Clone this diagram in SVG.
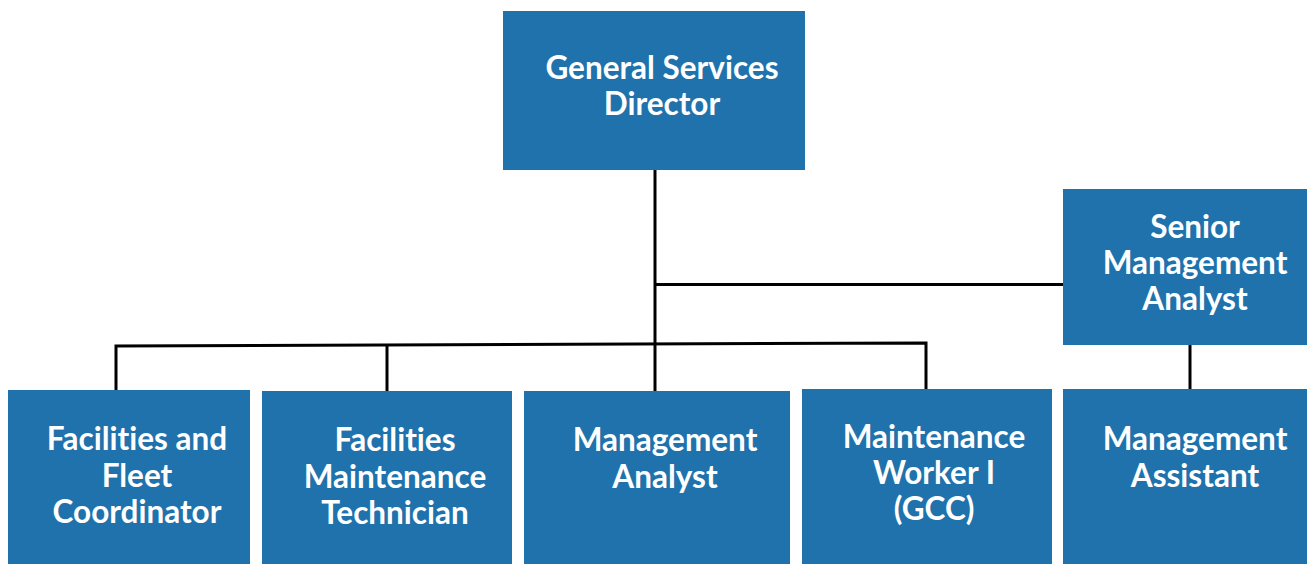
<svg xmlns="http://www.w3.org/2000/svg" width="1307" height="564" viewBox="0 0 1307 564">
  <style>
    .box { fill: #1F72AC; }
    .lbl { font-family: Lato, "Open Sans", "Liberation Sans", sans-serif; font-weight: bold; font-size: 31.5px; fill: #ffffff; text-anchor: middle; font-variant-ligatures: none; }
    .wire { fill: none; stroke: #000000; stroke-width: 3; stroke-linejoin: miter; }
  </style>
  <rect width="1307" height="564" fill="#ffffff"/>

  <!-- reporting lines -->
  <g id="connectors">
    <path class="wire" d="M655 170 V391"/>
    <path class="wire" d="M655 284.5 H1063"/>
    <path class="wire" d="M116 390 V346 L926 343 V389"/>
    <path class="wire" d="M387 346 V391"/>
    <path class="wire" d="M1190 340 V389"/>
  </g>

  <g id="general-services-director">
    <rect class="box" x="503" y="11" width="302" height="159"/>
    <text class="lbl" x="662" y="79">General Services</text>
    <text class="lbl" x="662" y="115">Director</text>
  </g>

  <g id="senior-management-analyst">
    <rect class="box" x="1063" y="189" width="244" height="156"/>
    <text class="lbl" x="1195" y="238">Senior</text>
    <text class="lbl" x="1195" y="274">Management</text>
    <text class="lbl" x="1195" y="310">Analyst</text>
  </g>

  <g id="facilities-fleet-coordinator">
    <rect class="box" x="8" y="390" width="242" height="174"/>
    <text class="lbl" x="137" y="450">Facilities and</text>
    <text class="lbl" x="137" y="487">Fleet</text>
    <text class="lbl" x="137" y="523">Coordinator</text>
  </g>

  <g id="facilities-maintenance-technician">
    <rect class="box" x="262" y="391" width="250" height="173"/>
    <text class="lbl" x="395" y="451">Facilities</text>
    <text class="lbl" x="395" y="488">Maintenance</text>
    <text class="lbl" x="395" y="524">Technician</text>
  </g>

  <g id="management-analyst">
    <rect class="box" x="524" y="391" width="266" height="173"/>
    <text class="lbl" x="665" y="451">Management</text>
    <text class="lbl" x="665" y="488">Analyst</text>
  </g>

  <g id="maintenance-worker">
    <rect class="box" x="802" y="389" width="250" height="175"/>
    <text class="lbl" x="934" y="448">Maintenance</text>
    <text class="lbl" x="934" y="484">Worker I</text>
    <text class="lbl" x="934" y="520">(GCC)</text>
  </g>

  <g id="management-assistant">
    <rect class="box" x="1063" y="389" width="244" height="175"/>
    <text class="lbl" x="1195" y="450">Management</text>
    <text class="lbl" x="1195" y="487">Assistant</text>
  </g>
</svg>
